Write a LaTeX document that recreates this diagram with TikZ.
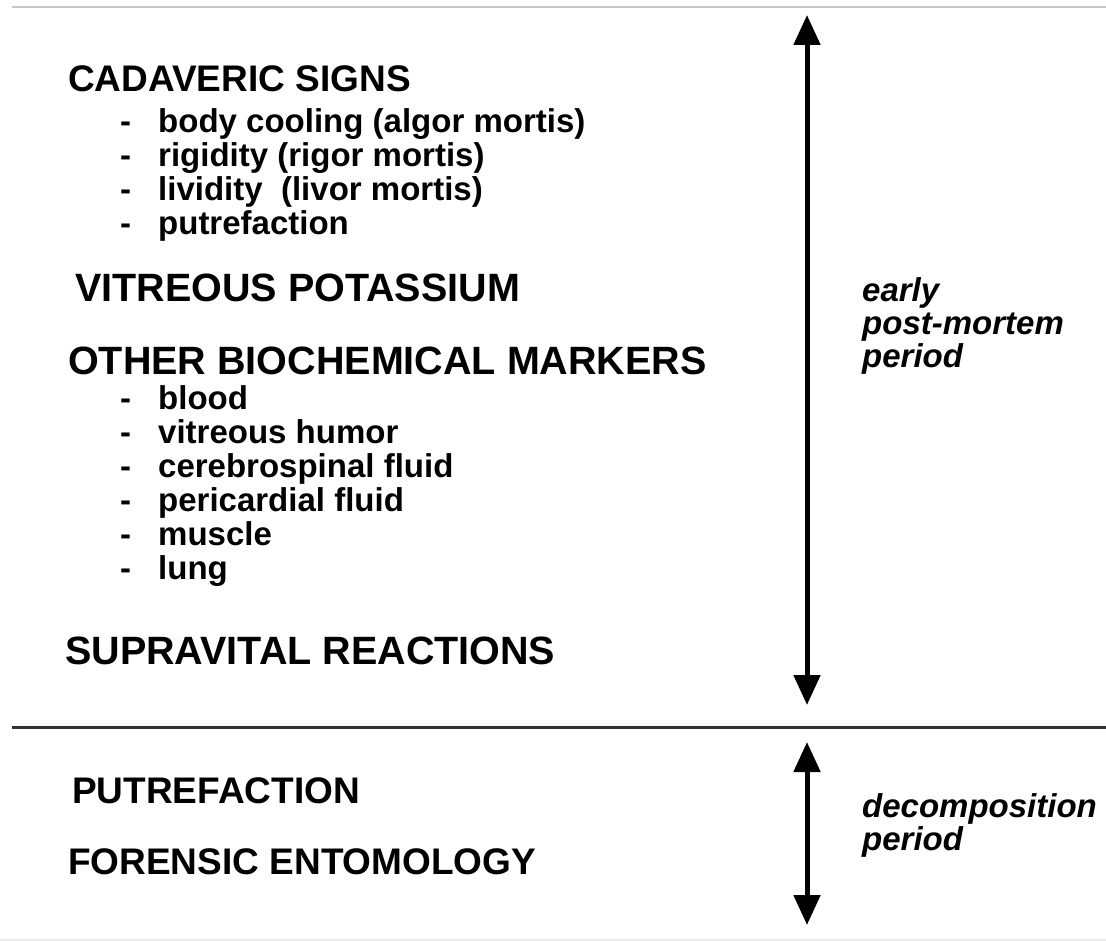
\documentclass[tikz,border=0pt]{standalone}
\usepackage{fontspec}
\setmainfont{Liberation Sans}
\usetikzlibrary{arrows.meta, positioning}
\tikzstyle{heading} = [anchor=base west, inner sep=0pt, font=\bfseries\fontsize{37}{40}\selectfont]
\tikzstyle{bigheading} = [heading, font=\bfseries\fontsize{39.5}{42}\selectfont]
\tikzstyle{item} = [anchor=north west, inner sep=0pt, text height=23pt, text depth=10.5pt, font=\bfseries\fontsize{33}{35}\selectfont]
\tikzstyle{period} = [anchor=north west, inner sep=0pt, align=left, font=\bfseries\itshape\fontsize{33}{33}\selectfont]
\tikzstyle{arrow} = [line width=5pt, {Triangle[length=30pt,width=26pt]}-{Triangle[length=30pt,width=26pt]}]
\newcommand{\dash}{\makebox[38pt][l]{-}}

\begin{document}
\begin{tikzpicture}[x=1pt, y=-1pt]
  \useasboundingbox (0,0) rectangle (1106,941);
  % frame lines
    \draw [line width=2pt, black!22] (12,7) -- (1106,7);
    \draw [line width=1.5pt, black!8] (0,940) -- (1106,940);
    \draw [line width=3pt, black!80] (12,727) -- (1106,727);
  % nodes
    \node (cadaveric) [heading] at (68,92) {CADAVERIC SIGNS};
    \node (algor) [item, below right=17pt and 52pt of cadaveric.south west] {\dash body cooling (algor mortis)};
    \node (rigor) [item, below=0pt of algor.south west, anchor=north west] {\dash rigidity (rigor mortis)};
    \node (livor) [item, below=0pt of rigor.south west, anchor=north west] {\dash lividity \ (livor mortis)};
    \node (putref) [item, below=0pt of livor.south west, anchor=north west] {\dash putrefaction};
    \node (potassium) [bigheading] at (75,302) {VITREOUS POTASSIUM};
    \node (markers) [bigheading] at (68,374) {OTHER BIOCHEMICAL MARKERS};
    \node (blood) [item, below right=12pt and 52pt of markers.south west] {\dash blood};
    \node (humor) [item, below=0pt of blood.south west, anchor=north west] {\dash vitreous humor};
    \node (csf) [item, below=0pt of humor.south west, anchor=north west] {\dash cerebrospinal fluid};
    \node (pericard) [item, below=0pt of csf.south west, anchor=north west] {\dash pericardial fluid};
    \node (muscle) [item, below=0pt of pericard.south west, anchor=north west] {\dash muscle};
    \node (lung) [item, below=0pt of muscle.south west, anchor=north west] {\dash lung};
    \node (supravital) [bigheading] at (65,664) {SUPRAVITAL REACTIONS};
    \node (putrefaction) [heading] at (72,803) {PUTREFACTION};
    \node (entomology) [heading] at (68,874) {FORENSIC ENTOMOLOGY};
    \node (early) [period] at (862,277) {early\\post-mortem\\period};
    \node (decomp) [period] at (862,793) {decomposition\\period};
  % arrows
    \coordinate (earlytop) at (807,15);
    \coordinate (earlybot) at (807,705);
    \coordinate (decomptop) at (807,742);
    \coordinate (decompbot) at (807,925);
    \draw [arrow] (earlytop) -- (earlybot);
    \draw [arrow] (decomptop) -- (decompbot);
\end{tikzpicture}
\end{document}
